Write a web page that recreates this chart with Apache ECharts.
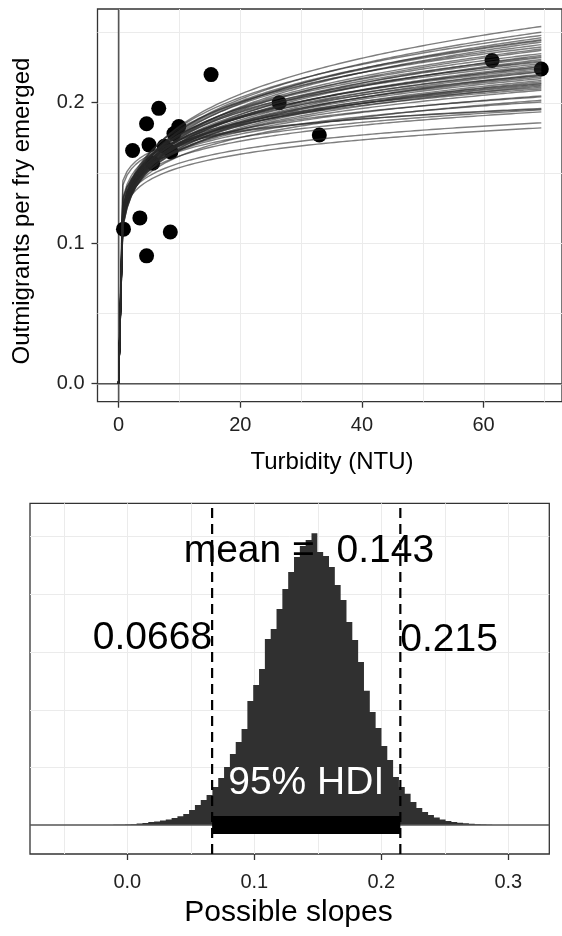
<!DOCTYPE html>
<html><head><meta charset="utf-8">
<style>html,body{margin:0;padding:0;background:#fff}#c{width:562px;height:936px}</style>
<script src="https://cdn.jsdelivr.net/npm/echarts@6/dist/echarts.min.js"></script>
</head><body><div id="c"></div>
<script>
const FONT = '"Liberation Sans", Arial, Helvetica, sans-serif';

// ---------- Top panel: observations ----------
const turbidity = [0.8, 2.3, 3.5, 4.6, 4.6, 5.0, 5.6, 6.6, 7.5, 8.5, 8.6, 9.1, 9.9, 15.2, 26.4, 33.0, 61.4, 69.5];
const outmigrantsPerFry = [0.110, 0.166, 0.118, 0.185, 0.091, 0.170, 0.157, 0.196, 0.169, 0.108, 0.165, 0.178, 0.183, 0.220, 0.200, 0.177, 0.230, 0.224];

// ---------- Top panel: posterior power-law curves, read at x = 4 and x = 70 ----------
const curveAt4 = [0.157,0.154,0.158,0.152,0.156,0.150,0.155,0.159,0.151,0.155,0.148,0.153,0.157,0.150,0.154,0.149,0.156,0.151,0.147,0.153,0.158,0.150,0.155,0.146,0.152,0.160,0.149,0.145,0.142,0.152,0.148,0.156,0.150,0.154,0.147,0.152,0.149,0.154,0.151,0.148,0.156,0.162,0.153,0.153,0.155,0.151,0.156,0.153,0.150,0.151];
const curveAt70 = [0.2546,0.2505,0.2482,0.2465,0.2451,0.2434,0.2416,0.2399,0.2375,0.2352,0.2340,0.2323,0.2292,0.2269,0.2245,0.2221,0.2197,0.2174,0.2150,0.2127,0.2110,0.2090,0.2043,0.2019,0.2007,0.1960,0.1936,0.1858,0.1822,0.2300,0.2310,0.2280,0.2235,0.2225,0.2205,0.2185,0.2160,0.2140,0.2135,0.2120,0.2100,0.1955,0.1950,0.2385,0.2445,0.2260,0.2330,0.2255,0.2195,0.2050];
const curveXMax = 69.5;

const xTicksTop = [0, 20, 40, 60];
const yTicksTop = [0, 0.1, 0.2];
const xGridTop = [0, 10, 20, 30, 40, 50, 60, 70];
const yGridTop = [0, 0.05, 0.1, 0.15, 0.2, 0.25];

// ---------- Bottom panel: posterior of slope ----------
const slopeBinStart = -0.0110;
const slopeBinWidth = 0.00459;
const slopeDensity = [0.01,0.01,0.02,0.03,0.05,0.07,0.10,0.12,0.16,0.19,0.24,0.30,0.38,0.52,0.69,0.87,1.04,1.32,1.63,2.01,
  2.46,2.88,3.33,4.30,4.85,5.41,6.45,6.79,7.49,8.18,8.77,9.29,9.67,9.88,10.11,9.46,9.32,8.94,8.32,7.80,
  7.04,6.41,5.65,4.65,3.92,3.36,2.74,2.25,1.66,1.32,1.08,0.80,0.59,0.45,0.35,0.26,0.19,0.14,0.10,0.08,
  0.06,0.04,0.03,0.02,0.01];
const slopeMean = 0.143;
const hdiLow = 0.0668;
const hdiHigh = 0.215;
const xTicksBottom = [0, 0.1, 0.2, 0.3];
const xGridBottom = [-0.05, 0, 0.05, 0.1, 0.15, 0.2, 0.25, 0.3];
const yGridBottom = [2, 4, 6, 8, 10];

// ---------- build ----------
const GRID_COLOR = '#ebebeb';
function crisp(v) { return Math.round(v) + 0.5; }

function vLines(idx, values, color, width, z, dash) {
  return {
    type: 'custom', xAxisIndex: idx, yAxisIndex: idx, z: z, silent: true,
    data: values.map(v => [v, 0]),
    renderItem(params, api) {
      const cs = params.coordSys;
      let x = api.coord([api.value(0), 0])[0];
      if (width <= 1.2) x = crisp(x);
      return { type: 'line', shape: { x1: x, y1: cs.y + cs.height, x2: x, y2: cs.y },
        style: { stroke: color, lineWidth: width, lineDash: dash || null } };
    }
  };
}
function hLines(idx, values, color, width, z) {
  return {
    type: 'custom', xAxisIndex: idx, yAxisIndex: idx, z: z, silent: true,
    data: values.map(v => [0, v]),
    renderItem(params, api) {
      const cs = params.coordSys;
      let y = api.coord([0, api.value(1)])[1];
      if (width <= 1.2) y = crisp(y);
      return { type: 'line', shape: { x1: cs.x, y1: y, x2: cs.x + cs.width, y2: y },
        style: { stroke: color, lineWidth: width } };
    }
  };
}

const series = [];
// top grid lines
series.push(vLines(0, xGridTop, GRID_COLOR, 1, 1));
series.push(hLines(0, yGridTop, GRID_COLOR, 1, 1));
series.push(vLines(0, [0], '#555', 1.6, 2));
series.push(hLines(0, [0], '#555', 1.6, 2));
// points
series.push({
  type: 'scatter', xAxisIndex: 0, yAxisIndex: 0, z: 3, silent: true,
  symbolSize: 15, itemStyle: { color: '#000', opacity: 1 },
  data: turbidity.map((x, i) => [x, outmigrantsPerFry[i]])
});
// curves
const nSamp = 100;
for (let c = 0; c < curveAt4.length; c++) {
  const b = Math.log(curveAt70[c] / curveAt4[c]) / Math.log(70 / 4);
  const pts = [];
  for (let k = 0; k <= nSamp; k++) {
    const x = curveXMax * k / nSamp;
    pts.push([x, x === 0 ? 0 : curveAt4[c] * Math.pow(x / 4, b)]);
  }
  series.push({
    type: 'line', xAxisIndex: 0, yAxisIndex: 0, z: 4, silent: true,
    showSymbol: false, symbol: 'none', data: pts,
    lineStyle: { color: 'rgba(40,40,40,0.6)', width: 1.4 }
  });
}

// bottom grid lines
series.push(vLines(1, xGridBottom, GRID_COLOR, 1, 1));
series.push(hLines(1, yGridBottom, GRID_COLOR, 1, 1));
// histogram (one stepped polygon through the bin edges)
series.push({
  type: 'custom', xAxisIndex: 1, yAxisIndex: 1, z: 2, silent: true,
  data: slopeDensity.map((d, i) => [slopeBinStart + i * slopeBinWidth, d]),
  renderItem(params, api) {
    if (params.dataIndex !== 0) return null;
    const pts = [api.coord([slopeBinStart, 0])];
    for (let i = 0; i < slopeDensity.length; i++) {
      const x0 = slopeBinStart + i * slopeBinWidth;
      pts.push(api.coord([x0, slopeDensity[i]]));
      pts.push(api.coord([x0 + slopeBinWidth, slopeDensity[i]]));
    }
    pts.push(api.coord([slopeBinStart + slopeDensity.length * slopeBinWidth, 0]));
    return { type: 'polygon', shape: { points: pts }, style: { fill: '#303030' } };
  }
});
series.push(hLines(1, [0], '#555', 1.6, 3));
// HDI bar
series.push({
  type: 'custom', xAxisIndex: 1, yAxisIndex: 1, z: 4, silent: true,
  data: [[hdiLow, hdiHigh]],
  renderItem(params, api) {
    const p0 = api.coord([api.value(0), 0]);
    const p1 = api.coord([api.value(1), 0]);
    return { type: 'line', shape: { x1: p0[0], y1: p0[1], x2: p1[0], y2: p1[1] },
      style: { stroke: '#000', lineWidth: 18, lineCap: 'butt' } };
  }
});
series.push(vLines(1, [hdiLow, hdiHigh], '#000', 2.2, 5, [10, 6]));
// annotations
const annText = ['mean =  ' + slopeMean, String(hdiLow), String(hdiHigh), '95% HDI'];
const annAlign = ['center', 'right', 'left', 'center'];
const annColor = ['#000', '#000', '#000', '#fff'];
series.push({
  type: 'custom', xAxisIndex: 1, yAxisIndex: 1, z: 6, silent: true,
  data: [[slopeMean, 9.5], [hdiLow, 6.48], [hdiHigh, 6.42], [(hdiLow + hdiHigh) / 2, 1.46]],
  renderItem(params, api) {
    const i = params.dataIndex;
    const p = api.coord([api.value(0), api.value(1)]);
    return { type: 'text', x: p[0], y: p[1],
      style: { text: annText[i], fontSize: 39, fontFamily: FONT, fill: annColor[i],
        align: annAlign[i], verticalAlign: 'middle' } };
  }
});

const tickStyle = { color: '#333', width: 1.3 };
const labelBase = { fontSize: 20, color: '#222', fontFamily: FONT };

const option = {
  animation: false,
  backgroundColor: '#fff',
  grid: [
    { left: 97.5, top: 9, width: 468.5, height: 392.7, show: true, borderColor: '#333', borderWidth: 1.3, backgroundColor: 'rgba(0,0,0,0)' },
    { left: 30, top: 503.3, width: 519.3, height: 350.7, show: true, borderColor: '#333', borderWidth: 1.3, backgroundColor: 'rgba(0,0,0,0)' }
  ],
  xAxis: [
    { gridIndex: 0, type: 'value', min: -3.47, max: 72.9,
      axisLine: { show: false, onZero: false }, splitLine: { show: false },
      axisTick: { show: true, length: 6, lineStyle: tickStyle, customValues: xTicksTop },
      axisLabel: Object.assign({ customValues: xTicksTop, margin: 14 }, labelBase) },
    { gridIndex: 1, type: 'value', min: -0.0766, max: 0.3323,
      axisLine: { show: false, onZero: false }, splitLine: { show: false },
      axisTick: { show: true, length: 6, lineStyle: tickStyle, customValues: xTicksBottom },
      axisLabel: Object.assign({ customValues: xTicksBottom, margin: 18, formatter: v => Number(v).toFixed(1) }, labelBase) }
  ],
  yAxis: [
    { gridIndex: 0, type: 'value', min: -0.0128, max: 0.2667,
      axisLine: { show: false, onZero: false }, splitLine: { show: false },
      axisTick: { show: true, length: 6, lineStyle: tickStyle, customValues: yTicksTop },
      axisLabel: Object.assign({ customValues: yTicksTop, margin: 13, formatter: v => Number(v).toFixed(1) }, labelBase) },
    { gridIndex: 1, type: 'value', min: -1.005, max: 11.15,
      axisLine: { show: false, onZero: false }, splitLine: { show: false },
      axisTick: { show: false }, axisLabel: { show: false } }
  ],
  graphic: [
    { type: 'text', x: 22, y: 211, rotation: Math.PI / 2, silent: true,
      style: { text: 'Outmigrants per fry emerged', fontSize: 24, fontFamily: FONT, fill: '#000', align: 'center', verticalAlign: 'middle' } },
    { type: 'text', x: 332, y: 462, silent: true,
      style: { text: 'Turbidity (NTU)', fontSize: 24, fontFamily: FONT, fill: '#000', align: 'center', verticalAlign: 'middle' } },
    { type: 'text', x: 288.5, y: 913, silent: true,
      style: { text: 'Possible slopes', fontSize: 30, fontFamily: FONT, fill: '#000', align: 'center', verticalAlign: 'middle' } }
  ],
  series: series
};

const chart = echarts.init(document.getElementById('c'), null, { renderer: 'canvas' });
chart.setOption(option);
</script>
</body></html>
